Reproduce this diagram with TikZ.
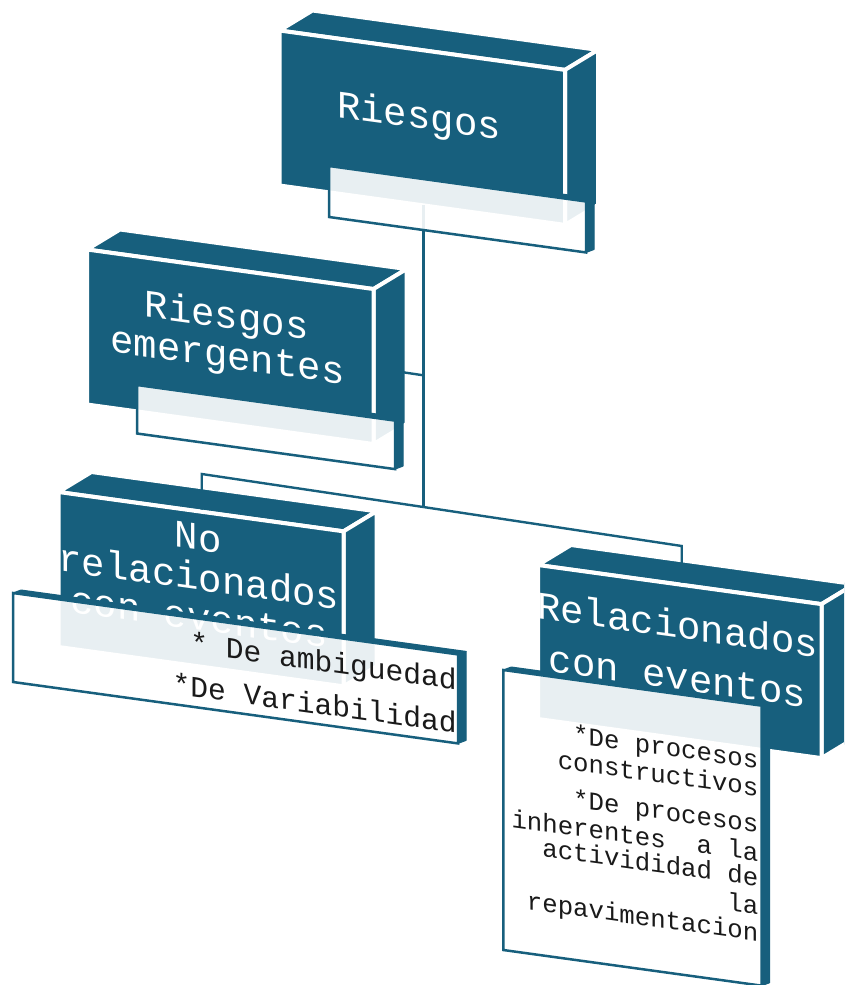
\documentclass[tikz,border=0pt]{standalone}
\usepackage{fontspec}
\newfontfamily\monofont{Liberation Mono}
\usetikzlibrary{calc}

\definecolor{boxblue}{RGB}{23,95,125}
\definecolor{inkdark}{RGB}{26,26,26}

\tikzset{
  face/.style={fill=boxblue, draw=white, line width=4pt, line join=round},
  notefront/.style={fill=white, fill opacity=0.9, draw=boxblue, line width=2.5pt},
  noteedge/.style={fill=boxblue, draw=boxblue, line width=1pt, line join=round},
  link/.style={draw=boxblue, line width=2.4pt},
  title/.style={font=\monofont\fontsize{39}{39}\selectfont, text=white,
    inner sep=0pt, anchor=base, yslant=-0.138},
  itemC/.style={font=\monofont\fontsize{29.6}{30}\selectfont, text=inkdark,
    inner sep=0pt, anchor=base east, yslant=-0.138},
  itemD/.style={font=\monofont\fontsize{25.7}{26}\selectfont, text=inkdark,
    inner sep=0pt, anchor=base east, yslant=-0.138},
}

% 3D slab: name, left x, top y (at left), width, height
\newcommand{\slab}[5]{%
  \pgfmathsetmacro{\slabR}{#2+#4}%
  \pgfmathsetmacro{\slabT}{#3+0.138*#4}%
  \pgfmathsetmacro{\slabB}{#3+0.138*#4+#5}%
  \pgfmathsetmacro{\slabL}{#3+#5}%
  \coordinate (#1-nw) at (#2,#3);
  \coordinate (#1-ne) at (\slabR,\slabT);
  \coordinate (#1-se) at (\slabR,\slabB);
  \coordinate (#1-sw) at (#2,\slabL);
  \path[face] (#1-nw) -- (#1-ne) -- ($(#1-ne)+(33,-20)$) -- ($(#1-nw)+(33,-20)$) -- cycle;
  \path[face] (#1-ne) -- ($(#1-ne)+(33,-20)$) -- ($(#1-se)+(33,-20)$) -- (#1-se) -- cycle;
  \path[face] (#1-nw) -- (#1-ne) -- (#1-se) -- (#1-sw) -- cycle;
}

% translucent text panel: name, left x, top y (at left), width, height
\newcommand{\panel}[5]{%
  \pgfmathsetmacro{\slabR}{#2+#4}%
  \pgfmathsetmacro{\slabT}{#3+0.138*#4}%
  \pgfmathsetmacro{\slabB}{#3+0.138*#4+#5}%
  \pgfmathsetmacro{\slabL}{#3+#5}%
  \coordinate (#1-nw) at (#2,#3);
  \coordinate (#1-ne) at (\slabR,\slabT);
  \coordinate (#1-se) at (\slabR,\slabB);
  \coordinate (#1-sw) at (#2,\slabL);
  \path[noteedge] (#1-nw) -- (#1-ne) -- ($(#1-ne)+(8,-3)$) -- ($(#1-nw)+(8,-3)$) -- cycle;
  \path[noteedge] (#1-ne) -- ($(#1-ne)+(8,-3)$) -- ($(#1-se)+(8,-3)$) -- (#1-se) -- cycle;
  \path[notefront] (#1-nw) -- (#1-ne) -- (#1-se) -- (#1-sw) -- cycle;
}

\begin{document}
\begin{tikzpicture}[x=1pt, y=-1pt]
  \useasboundingbox (0,0) rectangle (844,985);
  \clip (0,0) rectangle (844,985);

  % blocks
  \slab{A}{279.5}{30.5}{285.5}{155}
  \slab{B}{87}{249.5}{286.5}{155}
  \slab{C}{58.5}{492}{285}{155}
  \slab{D}{538}{565}{283.5}{154}

  % block titles
  \node[title] (tA)  at (419,128.5)   {Riesgos};
  \node[title] (tB1) at (226.7,328.2) {Riesgos};
  \node[title] (tB2) at (227.5,368.1) {emergentes};
  \node[title] (tC1) at (198.3,550.1) {No};
  \node[title] (tC2) at (199,590.2)   {relacionados};
  \node[title] (tC3) at (199,630.2)   {con eventos};
  \node[title] (tD1) at (677.5,637.9) {Relacionados};
  \node[title] (tD2) at (677.5,689.5) {con eventos};

  % connectors
  \coordinate (topA)   at (423.3,205.3);
  \coordinate (hub)    at (423.3,507);
  \coordinate (sideB)  at (376.5,368.3);
  \coordinate (onstem) at (423.3,375.3);
  \coordinate (bendC)  at (201.7,474);
  \coordinate (topC)   at (201.7,509.5);
  \coordinate (bendD)  at (681.7,546);
  \coordinate (topD)   at (681.7,582.5);
  \draw[link] (topA) -- (hub);
  \draw[link] (sideB) -- (onstem);
  \draw[link] (hub) -- (bendC) -- (topC);
  \draw[link] (hub) -- (bendD) -- (topD);

  % text panels
  \panel{PA}{329}{166}{257}{51}
  \panel{PB}{137}{385}{258}{48.5}
  \panel{PC}{13}{593}{445}{89}
  \panel{PD}{503.3}{670}{258.4}{280}

  % panel texts
  \node[itemC] (iC1) at (457,689.7) {* De ambiguedad};
  \node[itemC] (iC2) at (457,733.1) {*De Variabilidad};
  \node[itemD] (iD1) at (758.5,768.5) {*De procesos};
  \node[itemD] (iD2) at (758.5,796.2) {constructivos};
  \node[itemD] (iD3) at (758.5,832.9) {*De procesos};
  \node[itemD] (iD4) at (758.5,861.2) {inherentes\ \ a la};
  \node[itemD] (iD5) at (758.5,886.2) {activididad de};
  \node[itemD] (iD6) at (758.5,914.5) {la};
  \node[itemD] (iD7) at (758.5,941.2) {repavimentacion};
\end{tikzpicture}
\end{document}
